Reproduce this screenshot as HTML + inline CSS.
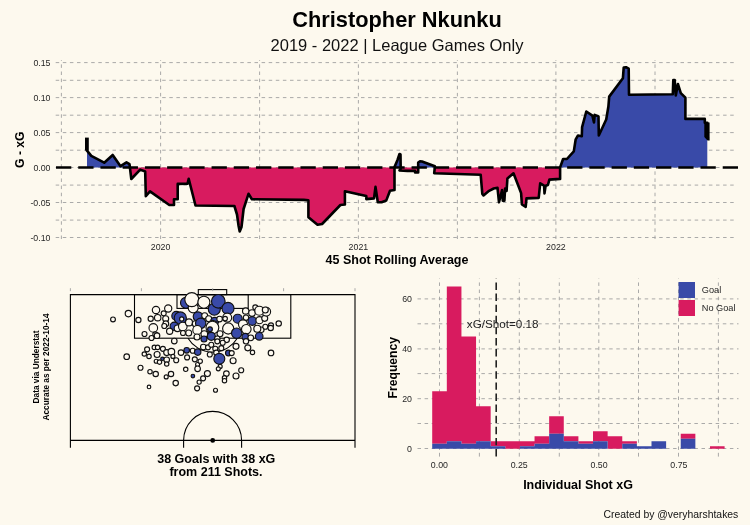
<!DOCTYPE html>
<html><head><meta charset="utf-8"><style>
html,body{margin:0;padding:0;background:#FDF9EE;}
svg{display:block;}
body{will-change:transform;}
text{font-family:"Liberation Sans",sans-serif;}
</style></head><body>
<svg width="750" height="525" viewBox="0 0 750 525">
<rect x="0" y="0" width="750" height="525" fill="#FDF9EE"/>

<text x="397" y="27" text-anchor="middle" font-size="21.8" font-weight="bold" fill="#000">Christopher Nkunku</text>
<text x="397" y="50.5" text-anchor="middle" font-size="16.5" fill="#111">2019 - 2022 | League Games Only</text>
<line x1="55.7" y1="62.6" x2="736" y2="62.6" stroke="#A0A0A0" stroke-width="0.9" stroke-dasharray="3.5 3.6"/>
<line x1="55.7" y1="80.3" x2="736" y2="80.3" stroke="#A0A0A0" stroke-width="0.9" stroke-dasharray="3.5 3.6"/>
<line x1="55.7" y1="97.6" x2="736" y2="97.6" stroke="#A0A0A0" stroke-width="0.9" stroke-dasharray="3.5 3.6"/>
<line x1="55.7" y1="115.2" x2="736" y2="115.2" stroke="#A0A0A0" stroke-width="0.9" stroke-dasharray="3.5 3.6"/>
<line x1="55.7" y1="132.6" x2="736" y2="132.6" stroke="#A0A0A0" stroke-width="0.9" stroke-dasharray="3.5 3.6"/>
<line x1="55.7" y1="150.2" x2="736" y2="150.2" stroke="#A0A0A0" stroke-width="0.9" stroke-dasharray="3.5 3.6"/>
<line x1="55.7" y1="167.5" x2="736" y2="167.5" stroke="#A0A0A0" stroke-width="0.9" stroke-dasharray="3.5 3.6"/>
<line x1="55.7" y1="185.1" x2="736" y2="185.1" stroke="#A0A0A0" stroke-width="0.9" stroke-dasharray="3.5 3.6"/>
<line x1="55.7" y1="202.5" x2="736" y2="202.5" stroke="#A0A0A0" stroke-width="0.9" stroke-dasharray="3.5 3.6"/>
<line x1="55.7" y1="220.1" x2="736" y2="220.1" stroke="#A0A0A0" stroke-width="0.9" stroke-dasharray="3.5 3.6"/>
<line x1="55.7" y1="237.5" x2="736" y2="237.5" stroke="#A0A0A0" stroke-width="0.9" stroke-dasharray="3.5 3.6"/>
<line x1="61.4" y1="239" x2="61.4" y2="60" stroke="#A0A0A0" stroke-width="0.9" stroke-dasharray="3.5 3.63"/>
<line x1="160.6" y1="239" x2="160.6" y2="60" stroke="#A0A0A0" stroke-width="0.9" stroke-dasharray="3.5 3.63"/>
<line x1="259.6" y1="239" x2="259.6" y2="60" stroke="#A0A0A0" stroke-width="0.9" stroke-dasharray="3.5 3.63"/>
<line x1="358.4" y1="239" x2="358.4" y2="60" stroke="#A0A0A0" stroke-width="0.9" stroke-dasharray="3.5 3.63"/>
<line x1="457.4" y1="239" x2="457.4" y2="60" stroke="#A0A0A0" stroke-width="0.9" stroke-dasharray="3.5 3.63"/>
<line x1="555.9" y1="239" x2="555.9" y2="60" stroke="#A0A0A0" stroke-width="0.9" stroke-dasharray="3.5 3.63"/>
<line x1="655.0" y1="239" x2="655.0" y2="60" stroke="#A0A0A0" stroke-width="0.9" stroke-dasharray="3.5 3.63"/>
<text x="50.5" y="65.8" text-anchor="end" font-size="8.8" fill="#262626">0.15</text>
<text x="50.5" y="100.8" text-anchor="end" font-size="8.8" fill="#262626">0.10</text>
<text x="50.5" y="135.8" text-anchor="end" font-size="8.8" fill="#262626">0.05</text>
<text x="50.5" y="170.7" text-anchor="end" font-size="8.8" fill="#262626">0.00</text>
<text x="50.5" y="205.7" text-anchor="end" font-size="8.8" fill="#262626">-0.05</text>
<text x="50.5" y="240.7" text-anchor="end" font-size="8.8" fill="#262626">-0.10</text>
<text x="160.6" y="250.3" text-anchor="middle" font-size="8.8" fill="#262626">2020</text>
<text x="358.4" y="250.3" text-anchor="middle" font-size="8.8" fill="#262626">2021</text>
<text x="555.9" y="250.3" text-anchor="middle" font-size="8.8" fill="#262626">2022</text>
<text x="397" y="263.8" text-anchor="middle" font-size="12.5" font-weight="bold" fill="#000">45 Shot Rolling Average</text>
<text transform="translate(23.5,149.7) rotate(-90)" text-anchor="middle" font-size="12.2" font-weight="bold" fill="#000">G - xG</text>
<path d="M87.00,167.5 L87.00,150.70 L91.30,155.90 L104.20,162.70 L112.70,155.00 L120.50,166.20 L126.50,162.40 L129.50,164.10 L129.91,167.50 L131.30,167.50 L140.20,167.50 L145.20,167.50 L145.80,167.50 L150.00,167.50 L169.30,167.50 L174.00,167.50 L174.00,167.50 L177.70,167.50 L177.70,167.50 L187.60,167.50 L188.70,167.50 L195.50,167.50 L234.40,167.50 L237.00,167.50 L238.60,167.50 L239.70,167.50 L241.50,167.50 L243.60,167.50 L248.50,167.50 L251.90,167.50 L303.80,167.50 L308.40,167.50 L308.40,167.50 L317.50,167.50 L322.10,167.50 L340.40,167.50 L344.90,167.50 L344.90,167.50 L366.30,167.50 L366.30,167.50 L374.00,167.50 L375.50,167.50 L377.80,167.50 L381.60,167.50 L386.20,167.50 L390.00,167.50 L394.50,167.50 L394.50,167.50 L394.50,167.00 L397.50,160.00 L399.50,154.00 L400.50,154.50 L400.69,167.50 L400.70,167.50 L399.50,167.50 L407.50,167.50 L415.10,167.50 L415.10,167.50 L418.20,167.50 L418.20,167.50 L418.20,162.50 L420.00,161.30 L422.00,161.50 L434.90,166.30 L434.78,167.50 L434.20,167.50 L480.70,167.50 L482.30,167.50 L483.50,167.50 L489.10,167.50 L493.70,167.50 L497.50,167.50 L499.00,167.50 L502.10,167.50 L502.80,167.50 L504.40,167.50 L505.10,167.50 L506.60,167.50 L507.40,167.50 L513.50,167.50 L518.80,167.50 L521.10,167.50 L521.90,167.50 L525.70,167.50 L526.50,167.50 L538.70,167.50 L540.20,167.50 L544.10,167.50 L544.50,167.50 L545.60,167.50 L547.90,167.50 L549.40,167.50 L560.10,167.50 L560.10,167.50 L560.10,167.40 L563.10,159.00 L566.90,159.00 L573.80,151.40 L575.70,139.30 L578.00,135.50 L581.80,136.20 L582.10,127.10 L586.30,111.50 L592.40,115.60 L594.00,122.50 L594.70,114.90 L598.50,116.40 L598.80,135.50 L606.20,119.50 L608.40,106.50 L609.20,96.60 L622.90,78.30 L623.70,67.60 L626.00,67.20 L628.70,68.70 L629.00,94.80 L672.80,94.20 L673.30,80.10 L674.70,80.10 L675.80,95.40 L677.90,84.00 L680.80,93.10 L685.40,97.70 L685.40,118.90 L704.80,118.90 L704.80,122.80 L707.30,122.80 L707.30,167.5 Z" fill="#394AA8"/>
<path d="M87.00,167.5 L87.00,167.50 L91.30,167.50 L104.20,167.50 L112.70,167.50 L120.50,167.50 L126.50,167.50 L129.50,167.50 L129.91,167.50 L131.30,179.00 L140.20,169.60 L145.20,171.50 L145.80,196.10 L150.00,191.40 L169.30,205.00 L174.00,205.00 L174.00,199.30 L177.70,199.30 L177.70,183.90 L187.60,183.60 L188.70,178.80 L195.50,205.50 L234.40,206.00 L237.00,214.50 L238.60,226.00 L239.70,231.50 L241.50,227.00 L243.60,209.00 L248.50,193.80 L251.90,199.30 L303.80,199.90 L308.40,200.40 L308.40,217.20 L317.50,224.80 L322.10,224.00 L340.40,205.00 L344.90,204.50 L344.90,191.30 L366.30,196.10 L366.30,199.10 L374.00,198.40 L375.50,186.90 L377.80,202.20 L381.60,202.20 L386.20,200.60 L390.00,190.70 L394.50,190.00 L394.50,167.50 L394.50,167.50 L397.50,167.50 L399.50,167.50 L400.50,167.50 L400.69,167.50 L400.70,168.50 L399.50,170.50 L407.50,170.90 L415.10,170.90 L415.10,172.40 L418.20,172.40 L418.20,167.50 L418.20,167.50 L420.00,167.50 L422.00,167.50 L434.90,167.50 L434.78,167.50 L434.20,173.20 L480.70,174.80 L482.30,193.90 L483.50,195.40 L489.10,190.80 L493.70,188.50 L497.50,187.80 L499.00,202.30 L502.10,190.00 L502.80,200.70 L504.40,200.70 L505.10,188.50 L506.60,190.80 L507.40,178.60 L513.50,173.30 L518.80,187.00 L521.10,193.10 L521.90,204.50 L525.70,206.80 L526.50,198.40 L538.70,197.90 L540.20,183.40 L544.10,185.70 L544.50,193.40 L545.60,185.70 L547.90,185.00 L549.40,179.60 L560.10,178.90 L560.10,167.50 L560.10,167.50 L563.10,167.50 L566.90,167.50 L573.80,167.50 L575.70,167.50 L578.00,167.50 L581.80,167.50 L582.10,167.50 L586.30,167.50 L592.40,167.50 L594.00,167.50 L594.70,167.50 L598.50,167.50 L598.80,167.50 L606.20,167.50 L608.40,167.50 L609.20,167.50 L622.90,167.50 L623.70,167.50 L626.00,167.50 L628.70,167.50 L629.00,167.50 L672.80,167.50 L673.30,167.50 L674.70,167.50 L675.80,167.50 L677.90,167.50 L680.80,167.50 L685.40,167.50 L685.40,167.50 L704.80,167.50 L704.80,167.50 L707.30,167.50 L707.30,167.5 Z" fill="#D81B5F"/>
<line x1="56" y1="167.5" x2="738" y2="167.5" stroke="#000" stroke-width="2.7" stroke-dasharray="15.3 6.924"/>
<path d="M87,150.7 L91.3,155.9 L104.2,162.7 L112.7,155 L120.5,166.2 L126.5,162.4 L129.5,164.1 L131.3,179 L140.2,169.6 L145.2,171.5 L145.8,196.1 L150,191.4 L169.3,205 L174,205 L174,199.3 L177.7,199.3 L177.7,183.9 L187.6,183.6 L188.7,178.8 L195.5,205.5 L234.4,206 L237,214.5 L238.6,226 L239.7,231.5 L241.5,227 L243.6,209 L248.5,193.8 L251.9,199.3 L303.8,199.9 L308.4,200.4 L308.4,217.2 L317.5,224.8 L322.1,224 L340.4,205 L344.9,204.5 L344.9,191.3 L366.3,196.1 L366.3,199.1 L374,198.4 L375.5,186.9 L377.8,202.2 L381.6,202.2 L386.2,200.6 L390,190.7 L394.5,190 L394.5,167 L397.5,160 L399.5,154 L400.5,154.5 L400.7,168.5 L399.5,170.5 L407.5,170.9 L415.1,170.9 L415.1,172.4 L418.2,172.4 L418.2,162.5 L420,161.3 L422,161.5 L434.9,166.3 L434.2,173.2 L480.7,174.8 L482.3,193.9 L483.5,195.4 L489.1,190.8 L493.7,188.5 L497.5,187.8 L499,202.3 L502.1,190 L502.8,200.7 L504.4,200.7 L505.1,188.5 L506.6,190.8 L507.4,178.6 L513.5,173.3 L518.8,187 L521.1,193.1 L521.9,204.5 L525.7,206.8 L526.5,198.4 L538.7,197.9 L540.2,183.4 L544.1,185.7 L544.5,193.4 L545.6,185.7 L547.9,185 L549.4,179.6 L560.1,178.9 L560.1,167.4 L563.1,159 L566.9,159 L573.8,151.4 L575.7,139.3 L578,135.5 L581.8,136.2 L582.1,127.1 L586.3,111.5 L592.4,115.6 L594,122.5 L594.7,114.9 L598.5,116.4 L598.8,135.5 L606.2,119.5 L608.4,106.5 L609.2,96.6 L622.9,78.3 L623.7,67.6 L626,67.2 L628.7,68.7 L629,94.8 L672.8,94.2 L673.3,80.1 L674.7,80.1 L675.8,95.4 L677.9,84 L680.8,93.1 L685.4,97.7 L685.4,118.9 L704.8,118.9 L704.8,122.8 L707.3,122.8" fill="none" stroke="#000" stroke-width="2.6" stroke-linejoin="round" stroke-linecap="round"/>
<rect x="85" y="137.6" width="3.8" height="13" fill="#000"/>
<path d="M704.3,122.4 L709.6,122.4 L709.6,140.4 L707.5,140.4 L704.3,137 Z" fill="#000"/>
<g fill="none" stroke="#000" stroke-width="1.1">
<path d="M70.4,447.7 L70.4,294.6 L355,294.6 L355,447.7"/>
<line x1="70.4" y1="440.4" x2="355" y2="440.4"/>
<rect x="134.5" y="294.6" width="156.3" height="43.6"/>
<rect x="177" y="294.6" width="71.2" height="13.8"/>
<rect x="198.3" y="289.6" width="28.4" height="5"/>
<path d="M188,338.2 A28.8,28.8 0 0 0 237.3,338.2"/>
<path d="M183.6,447.7 L183.6,440.4 A29,29 0 0 1 241.6,440.4 L241.6,447.7"/>
</g>
<circle cx="212.7" cy="440.4" r="2.4" fill="#000"/>
<g stroke="#111" stroke-width="1.15">
<circle cx="186" cy="302.8" r="5.5" fill="#394AA8"/>
<circle cx="193.2" cy="307.8" r="5" fill="#FEFAF0"/>
<circle cx="191.8" cy="299.6" r="7" fill="#FEFAF0"/>
<circle cx="203.9" cy="302.2" r="6" fill="#FEFAF0"/>
<circle cx="214.3" cy="309.2" r="6" fill="#394AA8"/>
<circle cx="218.3" cy="301.3" r="6.8" fill="#394AA8"/>
<circle cx="228" cy="308.4" r="6" fill="#394AA8"/>
<circle cx="198" cy="316.6" r="4.8" fill="#394AA8"/>
<circle cx="176.3" cy="315.9" r="4.5" fill="#394AA8"/>
<circle cx="180.3" cy="318.0" r="6.1" fill="#394AA8"/>
<circle cx="181.7" cy="319" r="2.1" fill="#FEFAF0"/>
<circle cx="174.3" cy="326.3" r="4.2" fill="#394AA8"/>
<circle cx="177.5" cy="328.3" r="3.3" fill="#FEFAF0"/>
<circle cx="182.8" cy="326.5" r="4.3" fill="#FEFAF0"/>
<circle cx="189" cy="322.4" r="3.5" fill="#FEFAF0"/>
<circle cx="195.3" cy="323.7" r="3" fill="#FEFAF0"/>
<circle cx="200.7" cy="323.3" r="5.2" fill="#394AA8"/>
<circle cx="204.7" cy="315.7" r="3" fill="#FEFAF0"/>
<circle cx="208.7" cy="318.7" r="3" fill="#FEFAF0"/>
<circle cx="214.7" cy="321.3" r="4" fill="#394AA8"/>
<circle cx="212.7" cy="325.3" r="5" fill="#FEFAF0"/>
<circle cx="219.6" cy="319" r="2.8" fill="#FEFAF0"/>
<circle cx="227.2" cy="317.6" r="4.5" fill="#FEFAF0"/>
<circle cx="225.1" cy="318.6" r="2.3" fill="#FEFAF0"/>
<circle cx="237.7" cy="318.7" r="4.5" fill="#394AA8"/>
<circle cx="246" cy="317.7" r="2.7" fill="#FEFAF0"/>
<circle cx="252.3" cy="321" r="4.3" fill="#394AA8"/>
<circle cx="259.5" cy="320.15" r="3.6" fill="#FEFAF0"/>
<circle cx="264.7" cy="318.3" r="3" fill="#FEFAF0"/>
<circle cx="243" cy="324.3" r="4.5" fill="#FEFAF0"/>
<circle cx="228.2" cy="328.5" r="5.6" fill="#FEFAF0"/>
<circle cx="236.7" cy="333.2" r="5.2" fill="#394AA8"/>
<circle cx="246.3" cy="329.3" r="4.8" fill="#FEFAF0"/>
<circle cx="245.3" cy="336.7" r="3.3" fill="#394AA8"/>
<circle cx="250.75" cy="337.85" r="2.85" fill="#FEFAF0"/>
<circle cx="246" cy="341.3" r="2.7" fill="#FEFAF0"/>
<circle cx="247.8" cy="347.8" r="3.0" fill="#FEFAF0"/>
<circle cx="252.5" cy="352.4" r="2.2" fill="#FEFAF0"/>
<circle cx="236.0" cy="346.3" r="3.0" fill="#FEFAF0"/>
<circle cx="226.7" cy="339.85" r="2.7" fill="#FEFAF0"/>
<circle cx="222.7" cy="342.7" r="2.5" fill="#FEFAF0"/>
<circle cx="261.3" cy="329.7" r="2.75" fill="#FEFAF0"/>
<circle cx="257.3" cy="328.7" r="3.5" fill="#FEFAF0"/>
<circle cx="265.3" cy="326.7" r="2.5" fill="#FEFAF0"/>
<circle cx="228.4" cy="352.95" r="2.9" fill="#394AA8"/>
<circle cx="221.3" cy="348.15" r="2.5" fill="#FEFAF0"/>
<circle cx="245.7" cy="311" r="3.2" fill="#FEFAF0"/>
<circle cx="252" cy="313" r="3.3" fill="#FEFAF0"/>
<circle cx="255.3" cy="307.3" r="2.5" fill="#FEFAF0"/>
<circle cx="266.3" cy="311.7" r="4.3" fill="#FEFAF0"/>
<circle cx="259.3" cy="310.7" r="4.5" fill="#FEFAF0"/>
<circle cx="265.3" cy="310" r="3" fill="#FEFAF0"/>
<circle cx="271" cy="325.3" r="2.5" fill="#FEFAF0"/>
<circle cx="270.7" cy="328" r="2.7" fill="#FEFAF0"/>
<circle cx="278.7" cy="323.5" r="2.7" fill="#FEFAF0"/>
<circle cx="259.2" cy="336.3" r="3.8" fill="#394AA8"/>
<circle cx="271" cy="352.9" r="2.8" fill="#FEFAF0"/>
<circle cx="156" cy="310" r="3.7" fill="#FEFAF0"/>
<circle cx="168.2" cy="308.55" r="3.6" fill="#FEFAF0"/>
<circle cx="163.7" cy="313.3" r="2.5" fill="#FEFAF0"/>
<circle cx="150.7" cy="318.7" r="2.6" fill="#FEFAF0"/>
<circle cx="157.7" cy="317.7" r="3.2" fill="#FEFAF0"/>
<circle cx="165.7" cy="318.7" r="3" fill="#FEFAF0"/>
<circle cx="165.85" cy="323.7" r="2.85" fill="#FEFAF0"/>
<circle cx="153.3" cy="327.9" r="4.3" fill="#FEFAF0"/>
<circle cx="144.5" cy="334" r="2.5" fill="#FEFAF0"/>
<circle cx="155.3" cy="334.3" r="2.5" fill="#FEFAF0"/>
<circle cx="157" cy="335.7" r="2.8" fill="#FEFAF0"/>
<circle cx="151.5" cy="338" r="2.5" fill="#FEFAF0"/>
<circle cx="164.3" cy="326" r="2.5" fill="#FEFAF0"/>
<circle cx="169.65" cy="331.2" r="3.1" fill="#FEFAF0"/>
<circle cx="183" cy="333" r="2.5" fill="#FEFAF0"/>
<circle cx="188.7" cy="333" r="3" fill="#FEFAF0"/>
<circle cx="174.3" cy="341" r="2.8" fill="#FEFAF0"/>
<circle cx="197.3" cy="330" r="4.5" fill="#FEFAF0"/>
<circle cx="212.4" cy="327.6" r="6.4" fill="#FEFAF0"/>
<circle cx="210" cy="329.2" r="2.4" fill="#394AA8"/>
<circle cx="211.3" cy="336.3" r="4" fill="#394AA8"/>
<circle cx="204.3" cy="334" r="3.3" fill="#FEFAF0"/>
<circle cx="204" cy="339" r="3" fill="#394AA8"/>
<circle cx="220" cy="333.7" r="3" fill="#FEFAF0"/>
<circle cx="197" cy="337" r="3" fill="#FEFAF0"/>
<circle cx="217.3" cy="338.7" r="2.7" fill="#FEFAF0"/>
<circle cx="217.3" cy="341.3" r="2.5" fill="#FEFAF0"/>
<circle cx="203.3" cy="347" r="2.8" fill="#FEFAF0"/>
<circle cx="208" cy="347.3" r="2.5" fill="#FEFAF0"/>
<circle cx="211.3" cy="344.7" r="2.5" fill="#FEFAF0"/>
<circle cx="215.3" cy="348.7" r="2.5" fill="#FEFAF0"/>
<circle cx="186.7" cy="350.3" r="2.8" fill="#394AA8"/>
<circle cx="192.7" cy="350.7" r="2.5" fill="#FEFAF0"/>
<circle cx="197.7" cy="352.1" r="3.2" fill="#394AA8"/>
<circle cx="216.35" cy="352.7" r="2.65" fill="#FEFAF0"/>
<circle cx="147.1" cy="349.3" r="2.5" fill="#FEFAF0"/>
<circle cx="144.3" cy="354" r="2.2" fill="#FEFAF0"/>
<circle cx="149" cy="356.4" r="2.2" fill="#FEFAF0"/>
<circle cx="154.3" cy="347.4" r="2.2" fill="#FEFAF0"/>
<circle cx="157.6" cy="347.4" r="2.2" fill="#FEFAF0"/>
<circle cx="157.1" cy="354.5" r="3" fill="#FEFAF0"/>
<circle cx="162.9" cy="348.8" r="2.5" fill="#FEFAF0"/>
<circle cx="166.7" cy="352.6" r="3" fill="#FEFAF0"/>
<circle cx="171.4" cy="351.7" r="3.3" fill="#FEFAF0"/>
<circle cx="162.4" cy="358.8" r="1.7" fill="#394AA8"/>
<circle cx="156.2" cy="361.2" r="2" fill="#FEFAF0"/>
<circle cx="159.5" cy="362.1" r="2.2" fill="#FEFAF0"/>
<circle cx="166.7" cy="359.8" r="2.8" fill="#FEFAF0"/>
<circle cx="166.7" cy="364" r="2.2" fill="#FEFAF0"/>
<circle cx="176.2" cy="360.2" r="2.5" fill="#FEFAF0"/>
<circle cx="172.9" cy="356.4" r="2" fill="#FEFAF0"/>
<circle cx="181" cy="352.6" r="2.8" fill="#FEFAF0"/>
<circle cx="187.1" cy="357.4" r="2.5" fill="#FEFAF0"/>
<circle cx="194.8" cy="359.3" r="2.5" fill="#FEFAF0"/>
<circle cx="197.6" cy="364.5" r="2" fill="#FEFAF0"/>
<circle cx="197.6" cy="368.8" r="2.8" fill="#FEFAF0"/>
<circle cx="140.5" cy="367.75" r="2.5" fill="#FEFAF0"/>
<circle cx="150" cy="371.7" r="2.2" fill="#FEFAF0"/>
<circle cx="155.7" cy="374" r="2.7" fill="#FEFAF0"/>
<circle cx="166.2" cy="376.9" r="2" fill="#FEFAF0"/>
<circle cx="171" cy="374" r="2.7" fill="#FEFAF0"/>
<circle cx="185.7" cy="369.3" r="2.2" fill="#FEFAF0"/>
<circle cx="192.9" cy="376" r="1.8" fill="#394AA8"/>
<circle cx="175.7" cy="383.1" r="2.7" fill="#FEFAF0"/>
<circle cx="149" cy="386.9" r="1.8" fill="#FEFAF0"/>
<circle cx="197.1" cy="388.3" r="2.5" fill="#FEFAF0"/>
<circle cx="199.15" cy="382.1" r="2.1" fill="#FEFAF0"/>
<circle cx="219.3" cy="358.8" r="5.5" fill="#394AA8"/>
<circle cx="209.8" cy="354.5" r="2.5" fill="#FEFAF0"/>
<circle cx="231.7" cy="353.1" r="2.5" fill="#FEFAF0"/>
<circle cx="233.1" cy="360.7" r="3" fill="#FEFAF0"/>
<circle cx="200.2" cy="361.2" r="2.2" fill="#FEFAF0"/>
<circle cx="220.2" cy="366.4" r="2" fill="#FEFAF0"/>
<circle cx="218.3" cy="368.8" r="2" fill="#FEFAF0"/>
<circle cx="207.4" cy="373.6" r="3" fill="#FEFAF0"/>
<circle cx="203.1" cy="378.3" r="2.5" fill="#FEFAF0"/>
<circle cx="215.5" cy="390.2" r="2" fill="#FEFAF0"/>
<circle cx="226.4" cy="373.6" r="2.8" fill="#FEFAF0"/>
<circle cx="224.5" cy="377.9" r="2.2" fill="#FEFAF0"/>
<circle cx="224.5" cy="380.7" r="2.2" fill="#FEFAF0"/>
<circle cx="236" cy="376" r="3" fill="#FEFAF0"/>
<circle cx="241.2" cy="370.2" r="2.5" fill="#FEFAF0"/>
<circle cx="113" cy="319.4" r="2.4" fill="#FEFAF0"/>
<circle cx="128.4" cy="313.6" r="3.2" fill="#FEFAF0"/>
<circle cx="138.4" cy="320" r="2.6" fill="#FEFAF0"/>
<circle cx="126.7" cy="356.7" r="2.8" fill="#FEFAF0"/>
</g>
<line x1="70.4" y1="288.2" x2="70.4" y2="291.2" stroke="#A0A0A0" stroke-width="0.9"/>
<line x1="141.4" y1="288.2" x2="141.4" y2="291.2" stroke="#A0A0A0" stroke-width="0.9"/>
<line x1="212.7" y1="288.2" x2="212.7" y2="291.2" stroke="#A0A0A0" stroke-width="0.9"/>
<line x1="283.6" y1="288.2" x2="283.6" y2="291.2" stroke="#A0A0A0" stroke-width="0.9"/>
<line x1="355" y1="288.2" x2="355" y2="291.2" stroke="#A0A0A0" stroke-width="0.9"/>
<text transform="translate(39.3,367) rotate(-90)" text-anchor="middle" font-size="8.3" font-weight="bold" fill="#000">Data via Understat</text>
<text transform="translate(48.5,367) rotate(-90)" text-anchor="middle" font-size="8.3" font-weight="bold" fill="#000">Accurate as per 2022-10-14</text>
<text x="216.3" y="462.6" text-anchor="middle" font-size="12.5" font-weight="bold" fill="#000">38 Goals with 38 xG</text>
<text x="216" y="476" text-anchor="middle" font-size="12.5" font-weight="bold" fill="#000">from 211 Shots.</text>
<line x1="417.5" y1="448.5" x2="738.5" y2="448.5" stroke="#A0A0A0" stroke-width="0.9" stroke-dasharray="3.5 3.6"/>
<line x1="417.5" y1="423.5" x2="738.5" y2="423.5" stroke="#A0A0A0" stroke-width="0.9" stroke-dasharray="3.5 3.6"/>
<line x1="417.5" y1="398.7" x2="738.5" y2="398.7" stroke="#A0A0A0" stroke-width="0.9" stroke-dasharray="3.5 3.6"/>
<line x1="417.5" y1="373.6" x2="738.5" y2="373.6" stroke="#A0A0A0" stroke-width="0.9" stroke-dasharray="3.5 3.6"/>
<line x1="417.5" y1="348.9" x2="738.5" y2="348.9" stroke="#A0A0A0" stroke-width="0.9" stroke-dasharray="3.5 3.6"/>
<line x1="417.5" y1="323.8" x2="738.5" y2="323.8" stroke="#A0A0A0" stroke-width="0.9" stroke-dasharray="3.5 3.6"/>
<line x1="417.5" y1="298.9" x2="738.5" y2="298.9" stroke="#A0A0A0" stroke-width="0.9" stroke-dasharray="3.5 3.6"/>
<line x1="439.5" y1="278.4" x2="439.5" y2="453" stroke="#A0A0A0" stroke-width="0.9" stroke-dasharray="3.5 3.63" stroke-dashoffset="3.1"/>
<line x1="479.4" y1="278.4" x2="479.4" y2="453" stroke="#A0A0A0" stroke-width="0.9" stroke-dasharray="3.5 3.63" stroke-dashoffset="3.1"/>
<line x1="519.3" y1="278.4" x2="519.3" y2="453" stroke="#A0A0A0" stroke-width="0.9" stroke-dasharray="3.5 3.63" stroke-dashoffset="3.1"/>
<line x1="559.3" y1="278.4" x2="559.3" y2="453" stroke="#A0A0A0" stroke-width="0.9" stroke-dasharray="3.5 3.63" stroke-dashoffset="3.1"/>
<line x1="598.8" y1="278.4" x2="598.8" y2="453" stroke="#A0A0A0" stroke-width="0.9" stroke-dasharray="3.5 3.63" stroke-dashoffset="3.1"/>
<line x1="638.5" y1="278.4" x2="638.5" y2="453" stroke="#A0A0A0" stroke-width="0.9" stroke-dasharray="3.5 3.63" stroke-dashoffset="3.1"/>
<line x1="678.5" y1="278.4" x2="678.5" y2="453" stroke="#A0A0A0" stroke-width="0.9" stroke-dasharray="3.5 3.63" stroke-dashoffset="3.1"/>
<line x1="718.4" y1="278.4" x2="718.4" y2="453" stroke="#A0A0A0" stroke-width="0.9" stroke-dasharray="3.5 3.63" stroke-dashoffset="3.1"/>
<path d="M432.20,391.31h14.62V443.71H432.20ZM446.82,286.52h14.62V441.21H446.82ZM461.44,336.42h14.62V443.71H461.44ZM476.06,406.28h14.62V441.21H476.06ZM490.68,441.21h14.62V446.20H490.68ZM505.30,441.21h14.62V448.70H505.30ZM519.92,441.21h14.62V446.20H519.92ZM534.54,436.22h14.62V443.71H534.54ZM549.16,416.26h14.62V433.73H549.16ZM563.78,436.22h14.62V441.21H563.78ZM578.40,441.21h14.62V443.71H578.40ZM593.02,431.24h14.62V441.21H593.02ZM607.64,436.22h14.62V448.70H607.64ZM622.26,441.21h14.62V443.71H622.26ZM680.74,433.73h14.62V438.72H680.74ZM709.98,446.20h14.62V448.70H709.98Z" fill="#D81B5F"/>
<path d="M432.20,443.71h14.62V448.70H432.20ZM446.82,441.21h14.62V448.70H446.82ZM461.44,443.71h14.62V448.70H461.44ZM476.06,441.21h14.62V448.70H476.06ZM490.68,446.20h14.62V448.70H490.68ZM519.92,446.20h14.62V448.70H519.92ZM534.54,443.71h14.62V448.70H534.54ZM549.16,433.73h14.62V448.70H549.16ZM563.78,441.21h14.62V448.70H563.78ZM578.40,443.71h14.62V448.70H578.40ZM593.02,441.21h14.62V448.70H593.02ZM622.26,443.71h14.62V448.70H622.26ZM636.88,446.20h14.62V448.70H636.88ZM651.50,441.21h14.62V448.70H651.50ZM680.74,438.72h14.62V448.70H680.74Z" fill="#394AA8"/>
<line x1="439.5" y1="452.8" x2="439.5" y2="456.6" stroke="#A0A0A0" stroke-width="0.9"/>
<line x1="479.4" y1="452.8" x2="479.4" y2="456.6" stroke="#A0A0A0" stroke-width="0.9"/>
<line x1="519.3" y1="452.8" x2="519.3" y2="456.6" stroke="#A0A0A0" stroke-width="0.9"/>
<line x1="559.3" y1="452.8" x2="559.3" y2="456.6" stroke="#A0A0A0" stroke-width="0.9"/>
<line x1="598.8" y1="452.8" x2="598.8" y2="456.6" stroke="#A0A0A0" stroke-width="0.9"/>
<line x1="638.5" y1="452.8" x2="638.5" y2="456.6" stroke="#A0A0A0" stroke-width="0.9"/>
<line x1="678.5" y1="452.8" x2="678.5" y2="456.6" stroke="#A0A0A0" stroke-width="0.9"/>
<line x1="718.4" y1="452.8" x2="718.4" y2="456.6" stroke="#A0A0A0" stroke-width="0.9"/>
<text x="412" y="451.9" text-anchor="end" font-size="8.8" fill="#262626">0</text>
<text x="412" y="402.0" text-anchor="end" font-size="8.8" fill="#262626">20</text>
<text x="412" y="352.1" text-anchor="end" font-size="8.8" fill="#262626">40</text>
<text x="412" y="302.2" text-anchor="end" font-size="8.8" fill="#262626">60</text>
<text x="439.4" y="468" text-anchor="middle" font-size="8.8" fill="#262626">0.00</text>
<text x="519.2" y="468" text-anchor="middle" font-size="8.8" fill="#262626">0.25</text>
<text x="599.1" y="468" text-anchor="middle" font-size="8.8" fill="#262626">0.50</text>
<text x="678.9" y="468" text-anchor="middle" font-size="8.8" fill="#262626">0.75</text>
<line x1="496.2" y1="456.4" x2="496.2" y2="278.4" stroke="#222" stroke-width="1.6" stroke-dasharray="7.4 3.7"/>
<text x="466.8" y="327.6" font-size="11.7" fill="#222">xG/Shot=0.18</text>
<text transform="translate(397,367.7) rotate(-90)" text-anchor="middle" font-size="12.2" font-weight="bold" fill="#000">Frequency</text>
<text x="578" y="489" text-anchor="middle" font-size="12.5" font-weight="bold" fill="#000">Individual Shot xG</text>
<rect x="678.6" y="282" width="16.4" height="16" fill="#394AA8"/>
<rect x="678.6" y="300" width="16.4" height="16" fill="#D81B5F"/>
<text x="701.8" y="293.2" font-size="9.2" fill="#262626">Goal</text>
<text x="701.8" y="311.3" font-size="9.2" fill="#262626">No Goal</text>
<text x="738.3" y="517.6" text-anchor="end" font-size="10.4" fill="#111">Created by @veryharshtakes</text>
</svg></body></html>
